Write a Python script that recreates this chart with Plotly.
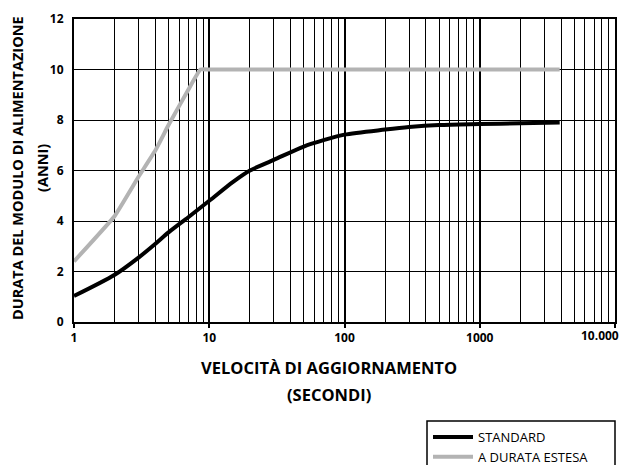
import numpy as np
import plotly.graph_objects as go

# Data
std_x = [1, 2, 3, 4, 5, 7, 10, 15, 20, 30, 50, 70, 100, 200, 300, 500, 1000, 2000, 3900]
std_y = [1.03, 1.87, 2.55, 3.1, 3.55, 4.15, 4.8, 5.55, 6.0, 6.42, 6.95, 7.2, 7.42, 7.62, 7.72, 7.8, 7.84, 7.87, 7.9]

ext_x = [1, 2, 3, 4, 5, 7, 8.6, 10, 100, 1000, 3900]
ext_y = [2.4, 4.2, 5.75, 6.8, 7.8, 9.2, 10.0, 10.0, 10.0, 10.0, 10.0]

x_tick_vals = [1, 10, 100, 1000]
x_tick_text = ["1", "10", "100", "1000"]
x_last_tick = 10000
x_last_label = "10.000"
y_tick_vals = [0, 2, 4, 6, 8, 10, 12]

x_title = ["VELOCITÀ DI AGGIORNAMENTO", "(SECONDI)"]
y_title = ["DURATA DEL MODULO DI ALIMENTAZIONE", "(ANNI)"]

FONT = "Open Sans"
# page body has an 8px default margin; compensate so the plot lands where the reference has it
OFF = 8
W, H = 627 - OFF, 465 - OFF
L, R, T, B = 74 - OFF, 12, 19 - OFF, 143
plot_w = W - L - R
plot_h = H - T - B


def px2x(px):
    return (px - OFF - L) / plot_w


def px2y(py):
    return (H - B - (py - OFF)) / plot_h


fig = go.Figure()
fig.add_trace(go.Scatter(x=std_x, y=std_y, mode="lines", name="STANDARD",
                         line=dict(color="black", width=4, shape="spline", smoothing=0.8)))
fig.add_trace(go.Scatter(x=ext_x, y=ext_y, mode="lines", name="A DURATA ESTESA",
                         line=dict(color="#b3b3b3", width=4, shape="spline", smoothing=0.3)))

tickfont = dict(family=FONT, size=12, color="black", weight="bold")
fig.update_xaxes(
    type="log", range=[0, 4], automargin=False,
    tickvals=x_tick_vals + [x_last_tick], ticktext=x_tick_text + [""],
    tickfont=tickfont,
    showgrid=True, gridcolor="black", gridwidth=2,
    minor=dict(dtick="D1", showgrid=True, gridcolor="black", gridwidth=1.2, ticks=""),
    ticks="outside", ticklen=4, tickwidth=2, tickcolor="black",
    showline=True, linecolor="black", linewidth=2, mirror=True,
    zeroline=False,
)
fig.update_yaxes(
    range=[0, 12], tickvals=y_tick_vals, automargin=False,
    tickfont=tickfont,
    showgrid=True, gridcolor="black", gridwidth=1.3,
    ticks="outside", ticklen=6, tickcolor="white", tickwidth=0.1,
    showline=True, linecolor="black", linewidth=2, mirror=True,
    zeroline=False,
)

fig.add_annotation(x=np.log10(x_last_tick), y=0, xref="x", yref="y", text=x_last_label,
                   showarrow=False, xanchor="right", yanchor="middle", yshift=-13, xshift=6,
                   font=tickfont)

xtitlefont = dict(family=FONT, size=16.5, color="black", weight="bold")
ytitlefont = dict(family=FONT, size=14.5, color="black", weight="bold")
fig.add_annotation(x=px2x(329), y=px2y(367), xref="paper", yref="paper", text=x_title[0],
                   showarrow=False, xanchor="center", yanchor="middle", font=xtitlefont)
fig.add_annotation(x=px2x(329), y=px2y(394), xref="paper", yref="paper", text=x_title[1],
                   showarrow=False, xanchor="center", yanchor="middle", font=xtitlefont)
fig.add_annotation(x=px2x(17), y=px2y(168), xref="paper", yref="paper", text=y_title[0],
                   showarrow=False, xanchor="center", yanchor="middle", textangle=-90, font=ytitlefont)
fig.add_annotation(x=px2x(42), y=px2y(168), xref="paper", yref="paper", text=y_title[1],
                   showarrow=False, xanchor="center", yanchor="middle", textangle=-90, font=ytitlefont)

# legend frame
fig.add_shape(type="rect", xref="paper", yref="paper",
              x0=px2x(427), x1=px2x(615), y0=px2y(421), y1=px2y(480),
              line=dict(color="black", width=1.5), fillcolor="rgba(0,0,0,0)", layer="above")

fig.update_layout(
    width=W, height=H,
    margin=dict(l=L, r=R, t=T, b=B, autoexpand=False),
    paper_bgcolor="white", plot_bgcolor="white",
    showlegend=True,
    legend=dict(x=px2x(428), y=px2y(422), xanchor="left", yanchor="top",
                borderwidth=0, bgcolor="rgba(0,0,0,0)",
                font=dict(family=FONT, size=13, color="black"),
                tracegroupgap=0, itemwidth=40),
)

fig.write_html("out.html")
